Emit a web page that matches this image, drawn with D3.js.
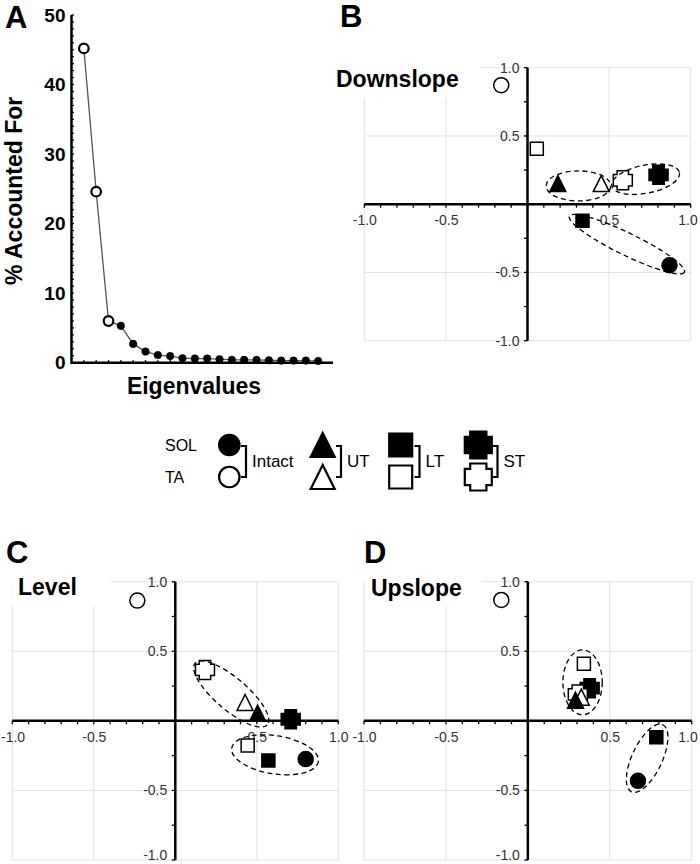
<!DOCTYPE html>
<html><head><meta charset="utf-8">
<script src="https://cdn.jsdelivr.net/npm/d3@7"></script>
<style>
body{margin:0;background:#fff}
text{font-family:"Liberation Sans",Arial,Helvetica,sans-serif}
</style>
</head><body>
<svg id="chart" width="700" height="864"></svg>
<script>
// ---------- DATA ----------
const eigenIndex = d3.range(1, 21);
const eigenPercent = [45.2, 24.6, 6.0, 5.3, 2.7, 1.6, 1.1, 0.95, 0.65, 0.6, 0.6, 0.5, 0.4, 0.4, 0.4, 0.35, 0.3, 0.3, 0.3, 0.25];
const eigenRetained = [true, true, true, false, false, false, false, false, false, false, false, false, false, false, false, false, false, false, false, false];
const eigenYTicks = [0, 10, 20, 30, 40, 50];

const groups = ["Intact", "UT", "LT", "ST"];
const groupShapes = ["circle", "triangle", "square", "cross"];
const muscles = ["SOL", "TA"]; // SOL filled, TA open
const loadingTicks = [-1, -0.5, 0.5, 1];

const downslopePoints = [
  {group: "Intact", muscle: "TA",  pc1: -0.161, pc2: 0.872},
  {group: "Intact", muscle: "SOL", pc1: 0.870,  pc2: -0.447},
  {group: "LT",     muscle: "TA",  pc1: 0.057,  pc2: 0.407},
  {group: "LT",     muscle: "SOL", pc1: 0.337,  pc2: -0.122},
  {group: "ST",     muscle: "SOL", pc1: 0.803,  pc2: 0.215},
  {group: "ST",     muscle: "TA",  pc1: 0.584,  pc2: 0.176},
  {group: "UT",     muscle: "TA",  pc1: 0.452,  pc2: 0.151},
  {group: "UT",     muscle: "SOL", pc1: 0.186,  pc2: 0.151}
];
const levelPoints = [
  {group: "Intact", muscle: "TA",  pc1: -0.233, pc2: 0.864},
  {group: "Intact", muscle: "SOL", pc1: 0.800,  pc2: -0.275},
  {group: "LT",     muscle: "TA",  pc1: 0.444,  pc2: -0.177},
  {group: "LT",     muscle: "SOL", pc1: 0.571,  pc2: -0.285},
  {group: "ST",     muscle: "SOL", pc1: 0.708,  pc2: 0.012},
  {group: "ST",     muscle: "TA",  pc1: 0.182,  pc2: 0.366},
  {group: "UT",     muscle: "TA",  pc1: 0.428,  pc2: 0.132},
  {group: "UT",     muscle: "SOL", pc1: 0.505,  pc2: 0.055}
];
const upslopePoints = [
  {group: "Intact", muscle: "TA",  pc1: -0.162, pc2: 0.869},
  {group: "Intact", muscle: "SOL", pc1: 0.672,  pc2: -0.431},
  {group: "LT",     muscle: "TA",  pc1: 0.342,  pc2: 0.410},
  {group: "LT",     muscle: "SOL", pc1: 0.784,  pc2: -0.117},
  {group: "ST",     muscle: "SOL", pc1: 0.377,  pc2: 0.235},
  {group: "ST",     muscle: "TA",  pc1: 0.305,  pc2: 0.190},
  {group: "UT",     muscle: "TA",  pc1: 0.326,  pc2: 0.170},
  {group: "UT",     muscle: "SOL", pc1: 0.291,  pc2: 0.148}
];

// clusters (dashed ellipses) in loading units
const downslopeClusters = [
  {cx: 0.3125, cy: 0.134, rx: 0.198, ry: 0.092, angle: 0},
  {cx: 0.724,  cy: 0.183, rx: 0.211, ry: 0.086, angle: -11},
  {cx: 0.609,  cy: -0.293, rx: 0.392, ry: 0.068, angle: 26}
];
const levelClusters = [
  {cx: 0.343, cy: 0.193,  rx: 0.291, ry: 0.098, angle: 40.5},
  {cx: 0.612, cy: -0.244, rx: 0.269, ry: 0.117, angle: 8.8}
];
const upslopeClusters = [
  {cx: 0.334, cy: 0.277,  rx: 0.120, ry: 0.198, angle: 0},
  {cx: 0.728, cy: -0.269, rx: 0.226, ry: 0.092, angle: -65}
];

// ---------- HELPERS ----------
const svg = d3.select("#chart");
const FONT = '"Liberation Sans",Arial,Helvetica,sans-serif';

function shapePath(shape, s) {
  const h = s / 2;
  if (shape === "circle") return `M${h},0A${h},${h} 0 1,1 ${-h},0A${h},${h} 0 1,1 ${h},0Z`;
  if (shape === "square") return `M${-h},${-h}H${h}V${h}H${-h}Z`;
  if (shape === "triangle") return `M0,${-h}L${h},${h}L${-h},${h}Z`;
  const a = s * 0.3;
  return `M${-a},${-h}H${a}V${-a}H${h}V${a}H${a}V${h}H${-a}V${a}H${-h}V${-a}H${-a}Z`;
}
const shapeOf = g => groupShapes[groups.indexOf(g)];
const panelSize = {circle: 15, square: 13, triangle: 16, cross: 19};
const legendSize = {circle: 20.5, square: 23, triangle: 24, cross: 27};

// ---------- PANEL A ----------
(function () {
  const x = d3.scaleLinear().domain([0, 21.2]).range([71.5, 333]);
  const y = d3.scaleLinear().domain([0, 50]).range([362.7, 15]);
  const g = svg.append("g");

  g.selectAll(".ymin").data(d3.range(0, 51)).join("line")
    .attr("x1", x(0)).attr("x2", x(0) + 2.5)
    .attr("y1", d => y(d)).attr("y2", d => y(d))
    .attr("stroke", "#000").attr("stroke-width", 1.2);
  g.selectAll(".xmin").data(eigenIndex).join("line")
    .attr("x1", d => x(d)).attr("x2", d => x(d))
    .attr("y1", y(0)).attr("y2", y(0) - 2.5)
    .attr("stroke", "#000").attr("stroke-width", 1.5);

  const ya = g.append("g").attr("transform", `translate(${x(0)},0)`)
    .call(d3.axisLeft(y).tickValues(eigenYTicks).tickSize(0).tickPadding(6));
  ya.select(".domain").remove();
  ya.selectAll("text").attr("font-family", FONT).attr("font-weight", "bold")
    .attr("font-size", 19).attr("fill", "#000");

  g.append("line").attr("x1", x(0)).attr("x2", x(0)).attr("y1", y(50)).attr("y2", y(0) + 1)
    .attr("stroke", "#000").attr("stroke-width", 2.5);
  g.append("line").attr("x1", x(0) - 1).attr("x2", 333).attr("y1", y(0)).attr("y2", y(0))
    .attr("stroke", "#000").attr("stroke-width", 2.5);

  const pts = eigenIndex.map((d, i) => ({i: d, v: eigenPercent[i], open: eigenRetained[i]}));
  g.append("path").datum(pts)
    .attr("d", d3.line().x(d => x(d.i)).y(d => y(d.v)))
    .attr("fill", "none").attr("stroke", "#555").attr("stroke-width", 1.3);
  g.selectAll(".pt").data(pts).join("circle")
    .attr("cx", d => x(d.i)).attr("cy", d => y(d.v))
    .attr("r", d => d.open ? 4.8 : 3.8)
    .attr("fill", d => d.open ? "#fff" : "#000")
    .attr("stroke", "#000").attr("stroke-width", d => d.open ? 2.2 : 0.5);

  g.append("text").attr("x", 5).attr("y", 28).text("A")
    .attr("font-size", 31).attr("font-weight", "bold");
  g.append("text").attr("transform", `translate(22,${(y(0) + y(50)) / 2 + 2}) rotate(-90)`)
    .attr("text-anchor", "middle").text("% Accounted For")
    .attr("font-size", 23).attr("font-weight", "bold");
  g.append("text").attr("x", 194).attr("y", 394).attr("text-anchor", "middle")
    .text("Eigenvalues").attr("font-size", 23).attr("font-weight", "bold");
})();

// ---------- SCATTER PANELS ----------
function scatterPanel(cfg) {
  const x = d3.scaleLinear().domain([-1, 1]).range(cfg.xr);
  const y = d3.scaleLinear().domain([-1, 1]).range(cfg.yr);
  const g = svg.append("g");
  const grid = "#e2e2e2";

  g.selectAll(".gv").data(loadingTicks).join("line")
    .attr("x1", d => x(d)).attr("x2", d => x(d)).attr("y1", y(1)).attr("y2", y(-1))
    .attr("stroke", grid).attr("stroke-width", 1);
  g.selectAll(".gh").data(loadingTicks).join("line")
    .attr("y1", d => y(d)).attr("y2", d => y(d)).attr("x1", x(-1)).attr("x2", x(1))
    .attr("stroke", grid).attr("stroke-width", 1);

  const title = g.append("text").attr("x", cfg.titleX).attr("y", cfg.titleY)
    .text(cfg.title).attr("font-size", 23).attr("font-weight", "bold");
  const bb = title.node().getBBox();
  g.insert("rect", "text").attr("x", bb.x - 6).attr("y", y(1) - 4)
    .attr("width", bb.width + 6 + cfg.boxPad).attr("height", cfg.titleY + 11 - (y(1) - 4))
    .attr("fill", "#fff");
  title.raise();

  g.selectAll(".xt").data(d3.range(-10, 11).map(i => i / 10)).join("line")
    .attr("x1", d => x(d)).attr("x2", d => x(d)).attr("y1", y(0)).attr("y2", y(0) + 3.5)
    .attr("stroke", "#000").attr("stroke-width", 1.3);
  g.selectAll(".yt").data(d3.range(-4, 5).map(i => i / 4)).join("line")
    .attr("y1", d => y(d)).attr("y2", d => y(d)).attr("x1", x(0)).attr("x2", x(0) - 3.5)
    .attr("stroke", "#000").attr("stroke-width", 1.3);

  const fmt = d => d.toFixed(1);
  const xa = g.append("g").attr("transform", `translate(0,${y(0)})`)
    .call(d3.axisBottom(x).tickValues(loadingTicks).tickFormat(fmt).tickSize(0).tickPadding(11));
  const yaxis = g.append("g").attr("transform", `translate(${x(0)},0)`)
    .call(d3.axisLeft(y).tickValues(loadingTicks).tickFormat(fmt).tickSize(0).tickPadding(8));
  [xa, yaxis].forEach(a => {
    a.select(".domain").remove();
    a.selectAll("text").attr("font-family", FONT).attr("font-size", 14).attr("fill", "#333");
  });
  // keep x tick labels inside the page
  xa.selectAll(".tick text").each(function () {
    const b = this.getBoundingClientRect();
    if (b.right > 699) d3.select(this).attr("dx", 698 - b.right);
    if (b.left < 1) d3.select(this).attr("dx", 1 - b.left);
  });
  // keep bottom y tick label inside the page
  yaxis.selectAll(".tick text").each(function () {
    const b = this.getBoundingClientRect();
    if (b.bottom > 863) d3.select(this).attr("y", 863 - b.bottom);
  });

  g.append("line").attr("x1", x(-1)).attr("x2", x(1)).attr("y1", y(0)).attr("y2", y(0))
    .attr("stroke", "#000").attr("stroke-width", 2.5);
  g.append("line").attr("x1", x(0)).attr("x2", x(0)).attr("y1", y(1)).attr("y2", y(-1))
    .attr("stroke", "#000").attr("stroke-width", 2.5);

  g.selectAll(".pt").data(cfg.points).join("path")
    .attr("transform", d => `translate(${x(d.pc1)},${y(d.pc2)})`)
    .attr("d", d => shapePath(shapeOf(d.group), panelSize[shapeOf(d.group)]))
    .attr("fill", d => d.muscle === "SOL" ? "#000" : "#fff")
    .attr("stroke", "#000").attr("stroke-width", 1.5).attr("stroke-linejoin", "miter");

  const unit = x(1) - x(0);
  g.selectAll(".el").data(cfg.clusters).join("ellipse")
    .attr("transform", d => `translate(${x(d.cx)},${y(d.cy)}) rotate(${d.angle})`)
    .attr("rx", d => d.rx * unit).attr("ry", d => d.ry * unit)
    .attr("fill", "none").attr("stroke", "#000").attr("stroke-width", 1.3)
    .attr("stroke-dasharray", "5,3.5");

  g.append("text").attr("x", cfg.letterX).attr("y", cfg.letterY).text(cfg.letter)
    .attr("font-size", 31).attr("font-weight", "bold");
}

scatterPanel({letter: "B", letterX: 340, letterY: 27, title: "Downslope", titleX: 336, titleY: 87, boxPad: 22,
  xr: [364.3, 690.7], yr: [340.7, 67.7], points: downslopePoints, clusters: downslopeClusters});
scatterPanel({letter: "C", letterX: 6, letterY: 563, title: "Level", titleX: 18, titleY: 595, boxPad: 34,
  xr: [12.3, 338.3], yr: [860, 581.7], points: levelPoints, clusters: levelClusters});
scatterPanel({letter: "D", letterX: 364, letterY: 563, title: "Upslope", titleX: 371, titleY: 596, boxPad: 20,
  xr: [364, 691.7], yr: [860, 581.7], points: upslopePoints, clusters: upslopeClusters});

// ---------- LEGEND ----------
(function () {
  const g = svg.append("g");
  const rowY = {SOL: 445, TA: 477};
  const labelX = 165;
  muscles.forEach(m => {
    g.append("text").attr("x", labelX).attr("y", rowY[m] + 6).text(m)
      .attr("font-size", 16).attr("fill", "#000");
  });
  const markerX = [229.3, 322.7, 400.7, 478.3];
  const bracketX = [246, 341, 419.5, 497.5];
  groups.forEach((grp, i) => {
    const shape = groupShapes[i];
    muscles.forEach(m => {
      g.append("path")
        .attr("transform", `translate(${markerX[i]},${rowY[m]})`)
        .attr("d", shapePath(shape, legendSize[shape]))
        .attr("fill", m === "SOL" ? "#000" : "#fff")
        .attr("stroke", "#000").attr("stroke-width", 2.2);
    });
    const bx = bracketX[i];
    g.append("path").attr("d", `M${bx - 5},${rowY.SOL + 1}H${bx}V${rowY.TA}H${bx - 5}`)
      .attr("fill", "none").attr("stroke", "#000").attr("stroke-width", 2.2);
    g.append("text").attr("x", bx + 6).attr("y", (rowY.SOL + rowY.TA) / 2 + 6).text(grp)
      .attr("font-size", 17).attr("fill", "#000");
  });
})();
</script>
</body></html>
